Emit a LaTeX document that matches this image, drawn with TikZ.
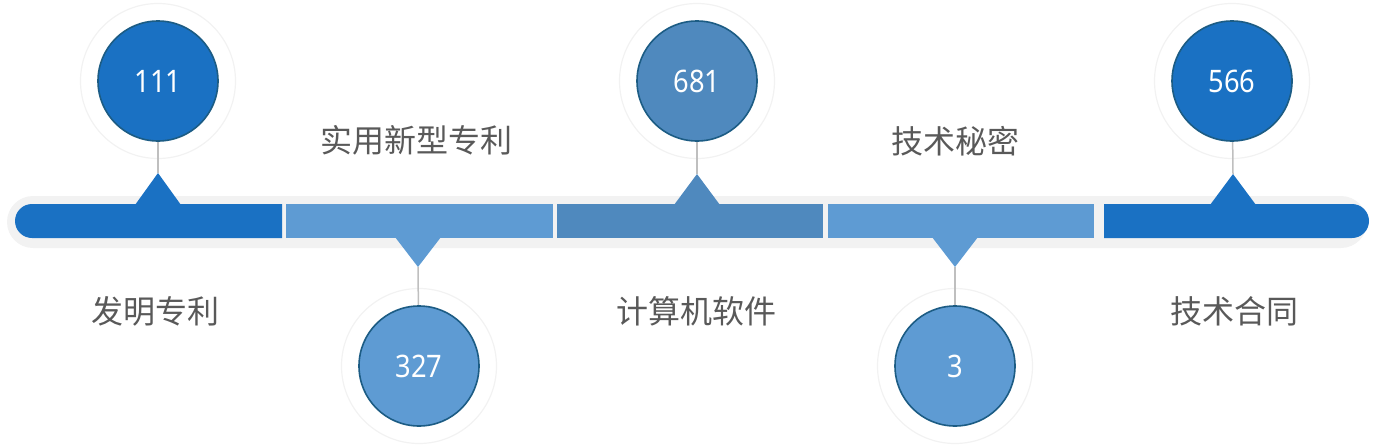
\documentclass[tikz,border=0pt]{standalone}
\usepackage{fontspec}
\setmainfont{Noto Sans}
\newfontfamily\cjk{Noto Sans CJK SC}
\newfontfamily\numfont[FakeStretch=0.88]{Noto Sans}
\definecolor{fonce}{HTML}{1A71C3}
\definecolor{clair}{HTML}{5E9BD3}
\definecolor{moyen}{HTML}{4F89BE}
\definecolor{bord}{HTML}{1C5C84}
\definecolor{fond}{HTML}{F2F2F2}
\definecolor{texte}{HTML}{595959}
\definecolor{trait}{HTML}{BFBFBF}
\tikzset{
  bulle/.style={circle, minimum size=120pt, inner sep=0pt, draw=bord, line width=1.6pt, text=white, font=\numfont\fontsize{31}{31}\selectfont},
  halo/.style={circle, minimum size=155pt, inner sep=0pt, draw=fond, line width=1.2pt},
  titre/.style={text=texte, font=\cjk\fontsize{32}{32}\selectfont},
  lien/.style={draw=trait, line width=1.5pt}
}
\begin{document}
\begin{tikzpicture}[x=1pt,y=-1pt]
  \useasboundingbox (0,0) rectangle (1390,447);
  % barre de fond
  \fill[fond, rounded corners=26pt] (7,196) rectangle (1367,248);
  % segments
  \fill[fonce] (282,204) -- (32,204) arc[start angle=90, end angle=270, radius=17pt] -- (282,238) -- cycle;
  \fill[clair] (286,204) rectangle (553,238);
  \fill[moyen] (557,204) rectangle (823,238);
  \fill[clair] (828,204) rectangle (1094,238);
  \fill[fonce] (1104,204) -- (1352,204) arc[start angle=90, end angle=-90, radius=17pt] -- (1104,238) -- cycle;
  % pointes
  \coordinate (t1) at (158,173);
  \coordinate (t2) at (418,267);
  \coordinate (t3) at (697,174);
  \coordinate (t4) at (955,267);
  \coordinate (t5) at (1233,174);
  \fill[fonce] (135,205) -- (t1) -- (181,205) -- cycle;
  \fill[clair] (395,237) -- (t2) -- (441,237) -- cycle;
  \fill[moyen] (674,205) -- (t3) -- (720,205) -- cycle;
  \fill[clair] (932,237) -- (t4) -- (978,237) -- cycle;
  \fill[fonce] (1210,205) -- (t5) -- (1256,205) -- cycle;
  % cercles
  \node[halo] (h1) at (158,81) {};
  \node[halo] (h2) at (419,366) {};
  \node[halo] (h3) at (697,81) {};
  \node[halo] (h4) at (955,366) {};
  \node[halo] (h5) at (1232,81) {};
  \draw[lien] (h1.center) -- (t1);
  \draw[lien] (h2.center) -- (t2);
  \draw[lien] (h3.center) -- (t3);
  \draw[lien] (h4.center) -- (t4);
  \draw[lien] (h5.center) -- (t5);
  \node[bulle, fill=fonce] (c1) at (h1) {111};
  \node[bulle, fill=clair] (c2) at (h2) {327};
  \node[bulle, fill=moyen] (c3) at (h3) {681};
  \node[bulle, fill=clair] (c4) at (h4) {3};
  \node[bulle, fill=fonce] (c5) at (h5) {566};
  % textes
  \node[titre] (l1) at (155,311) {发明专利};
  \node[titre] (l2) at (416,140) {实用新型专利};
  \node[titre] (l3) at (696,311) {计算机软件};
  \node[titre] (l4) at (955,141) {技术秘密};
  \node[titre] (l5) at (1234,311) {技术合同};
\end{tikzpicture}
\end{document}
